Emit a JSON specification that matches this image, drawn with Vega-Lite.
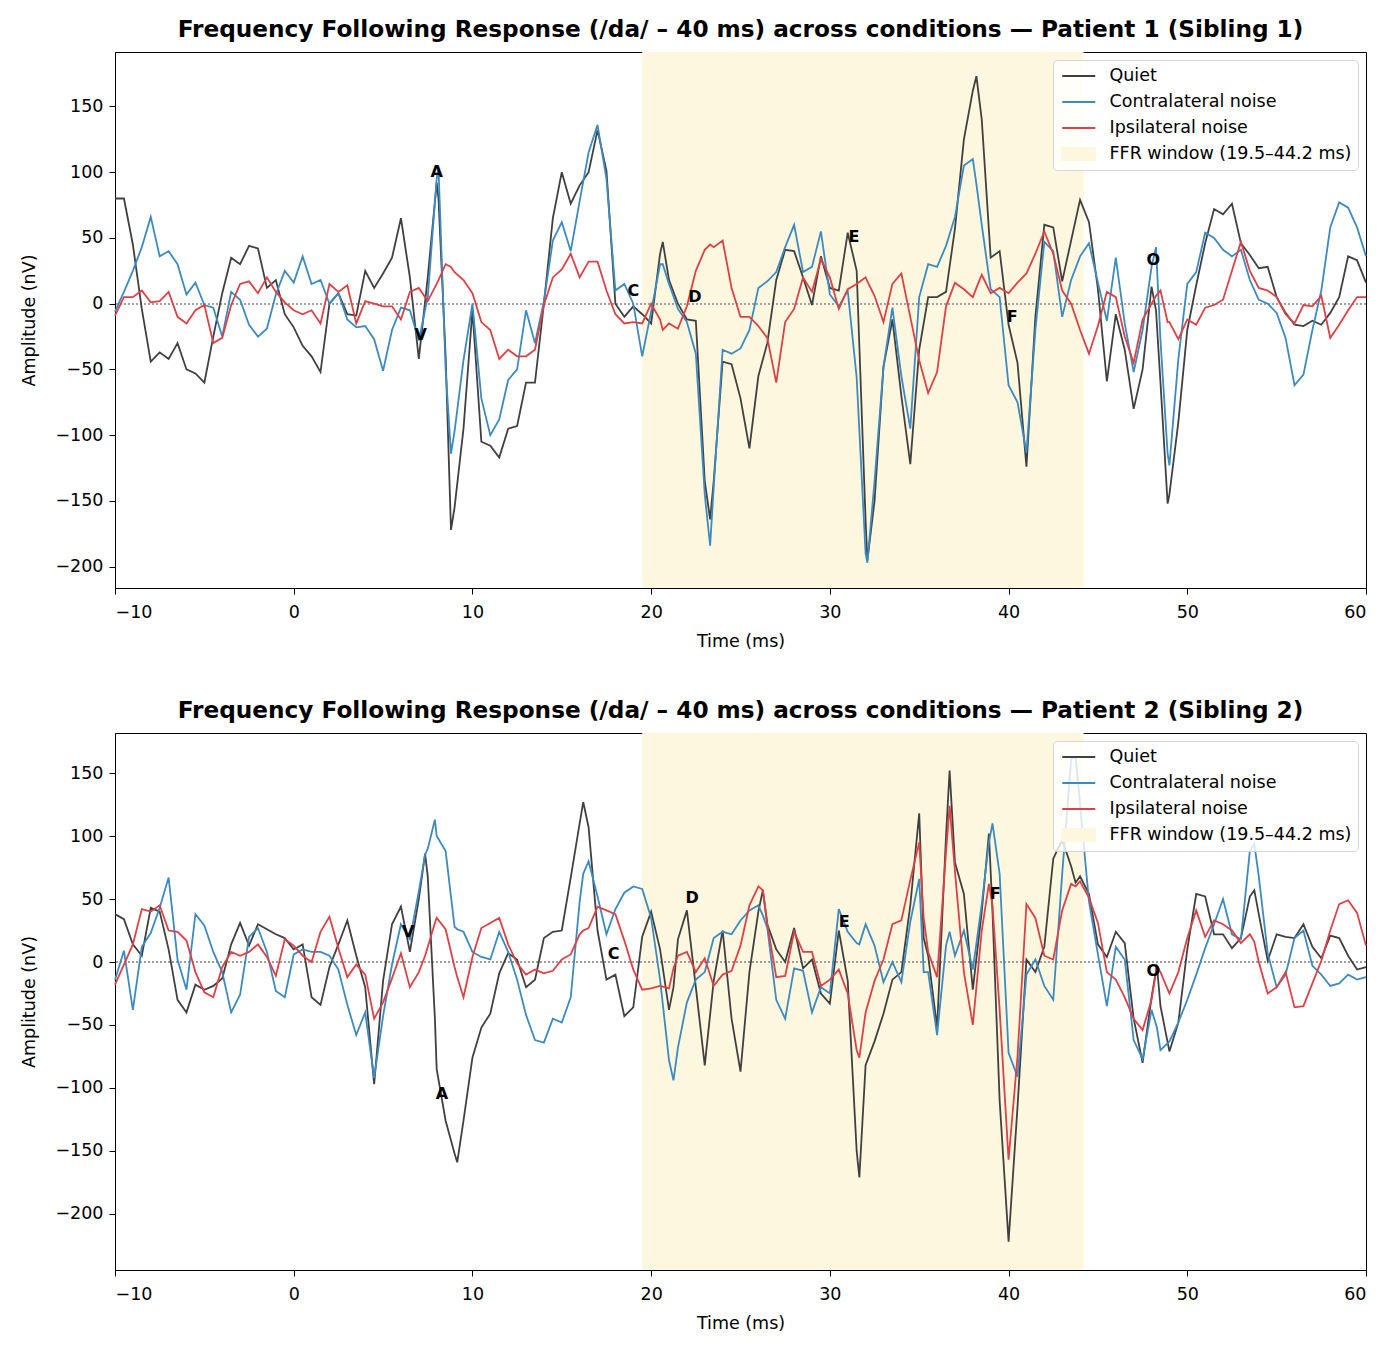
{
  "$schema": "https://vega.github.io/schema/vega-lite/v6.json",
  "padding": {"left": 20, "top": 17, "right": 5, "bottom": 5},
  "spacing": 47,
  "resolve": {"scale": {"color": "independent", "x": "independent", "y": "independent"}},
  "config": {
    "font": "DejaVu Sans",
    "view": {"stroke": "black", "strokeWidth": 1},
    "axis": {
      "grid": false, "labelFontSize": 17.5, "titleFontSize": 17.5, "labelColor": "black",
      "titleColor": "black", "titleFontWeight": "normal", "tickColor": "black", "domainColor": "black",
      "tickSize": 6, "labelPadding": 6, "titlePadding": 8
    },
    "axisX": {"labelPadding": 9, "titlePadding": 12},
    "axisY": {"titlePadding": 16},
    "title": {"fontSize": 23.2, "fontWeight": "bold", "color": "black", "anchor": "middle", "offset": 10},
    "legend": {
      "orient": "top-right", "offset": 8, "padding": 6, "fillColor": "rgba(255,255,255,0.8)",
      "strokeColor": "#d5d5d5", "cornerRadius": 4, "labelFontSize": 17.5, "labelColor": "black",
      "symbolSize": 306, "rowPadding": 7, "labelOffset": 30.5, "labelLimit": 400
    }
  },
  "datasets": {
    "win": [{"a": 19.5, "b": 44.2, "k": "w"}],
    "p1": [
      {"t":-10,"q":80,"c":-6,"i":-9},{"t":-9.5,"q":80,"c":9,"i":5},{"t":-9,"q":45,"c":25,"i":5},
      {"t":-8.5,"q":-4,"c":43,"i":10},{"t":-8,"q":-44,"c":66,"i":1},{"t":-7.5,"q":-37,"c":36,"i":2},
      {"t":-7,"q":-42,"c":40,"i":9},{"t":-6.5,"q":-30,"c":30,"i":-10},{"t":-6,"q":-50,"c":7,"i":-15},
      {"t":-5.5,"q":-53,"c":16,"i":-5},{"t":-5,"q":-60,"c":-1,"i":-1},{"t":-4.5,"q":-25,"c":-3,"i":-30},
      {"t":-4,"q":8,"c":-25,"i":-26},{"t":-3.5,"q":35,"c":9,"i":-1},{"t":-3,"q":30,"c":3,"i":15},
      {"t":-2.5,"q":44,"c":-16,"i":17},{"t":-2,"q":42,"c":-25,"i":8},{"t":-1.5,"q":12,"c":-19,"i":20},
      {"t":-1,"q":18,"c":7,"i":9},{"t":-0.5,"q":-8,"c":25,"i":1},{"t":0,"q":-18,"c":16,"i":-5},
      {"t":0.5,"q":-32,"c":36,"i":-8},{"t":1,"q":-40,"c":15,"i":-5},{"t":1.5,"q":-52,"c":18,"i":-15},
      {"t":2,"q":0,"c":0,"i":15},{"t":2.5,"q":8,"c":8,"i":9},{"t":3,"q":-8,"c":-12,"i":14},
      {"t":3.5,"q":-9,"c":-18,"i":-15},{"t":4,"q":25,"c":-17,"i":2},{"t":4.5,"q":12,"c":-27,"i":0},
      {"t":5,"q":23,"c":-51,"i":-2},{"t":5.5,"q":35,"c":-20,"i":-2},{"t":6,"q":65,"c":-3,"i":-12},
      {"t":6.5,"q":20,"c":-5,"i":9},{"t":7,"q":-42,"c":-28,"i":12},{"t":7.5,"q":20,"c":5,"i":2},
      {"t":8,"q":92,"c":95,"i":15},{"t":8.1,"q":80,"c":104,"i":18},{"t":8.5,"q":-40,"c":-50,"i":30},
      {"t":8.8,"q":-172,"c":-114,"i":28},{"t":9,"q":-155,"c":-97,"i":24},{"t":9.5,"q":-95,"c":-43,"i":18},
      {"t":10,"q":-5,"c":0,"i":8},{"t":10.5,"q":-105,"c":-72,"i":-14},{"t":11,"q":-108,"c":-100,"i":-20},
      {"t":11.5,"q":-117,"c":-88,"i":-42},{"t":12,"q":-95,"c":-58,"i":-35},{"t":12.5,"q":-93,"c":-50,"i":-40},
      {"t":13,"q":-60,"c":-5,"i":-40},{"t":13.5,"q":-60,"c":-30,"i":-35},{"t":14,"q":0,"c":2,"i":-1},
      {"t":14.5,"q":65,"c":48,"i":20},{"t":15,"q":100,"c":62,"i":26},{"t":15.5,"q":76,"c":40,"i":38},
      {"t":16,"q":90,"c":78,"i":20},{"t":16.5,"q":100,"c":115,"i":32},{"t":17,"q":132,"c":136,"i":32},
      {"t":17.5,"q":101,"c":95,"i":10},{"t":18,"q":0,"c":10,"i":-8},{"t":18.5,"q":-10,"c":15,"i":-15},
      {"t":19,"q":-2,"c":0,"i":-14},{"t":19.5,"q":-8,"c":-40,"i":-15},{"t":20,"q":-15,"c":-6,"i":0},
      {"t":20.5,"q":38,"c":30,"i":-12},{"t":20.65,"q":47,"c":30,"i":-20},{"t":21,"q":18,"c":15,"i":-15},
      {"t":21.5,"q":0,"c":-4,"i":-19},{"t":22,"q":-12,"c":-14,"i":-2},{"t":22.5,"q":-13,"c":-38,"i":25},
      {"t":23,"q":-135,"c":-145,"i":41},{"t":23.3,"q":-164,"c":-184,"i":45},{"t":23.5,"q":-135,"c":-140,"i":43},
      {"t":24,"q":-44,"c":-35,"i":48},{"t":24.5,"q":-46,"c":-38,"i":12},{"t":25,"q":-72,"c":-34,"i":-10},
      {"t":25.5,"q":-110,"c":-20,"i":-10},{"t":26,"q":-55,"c":12,"i":-17},{"t":26.5,"q":-30,"c":17,"i":-26},
      {"t":27,"q":18,"c":24,"i":-60},{"t":27.5,"q":41,"c":43,"i":-14},{"t":28,"q":40,"c":60,"i":-4},
      {"t":28.5,"q":20,"c":24,"i":20},{"t":29,"q":-1,"c":28,"i":9},{"t":29.5,"q":36,"c":55,"i":34},
      {"t":30,"q":12,"c":7,"i":20},{"t":30.5,"q":10,"c":-2,"i":-4},{"t":31,"q":54,"c":10,"i":11},
      {"t":31.5,"q":25,"c":-56,"i":15},{"t":32,"q":-165,"c":-190,"i":20},{"t":32.1,"q":-195,"c":-197,"i":17},
      {"t":32.5,"q":-150,"c":-135,"i":6},{"t":33,"q":-48,"c":-48,"i":-14},{"t":33.5,"q":-12,"c":-3,"i":15},
      {"t":34,"q":-70,"c":-55,"i":23},{"t":34.5,"q":-122,"c":-95,"i":-10},{"t":35,"q":-35,"c":5,"i":-43},
      {"t":35.5,"q":5,"c":30,"i":-68},{"t":36,"q":5,"c":28,"i":-52},{"t":36.5,"q":9,"c":44,"i":-2},
      {"t":37,"q":57,"c":66,"i":16},{"t":37.5,"q":125,"c":105,"i":11},{"t":38,"q":162,"c":110,"i":5},
      {"t":38.2,"q":173,"c":91,"i":12},{"t":38.5,"q":140,"c":60,"i":22},{"t":39,"q":35,"c":11,"i":8},
      {"t":39.5,"q":40,"c":5,"i":12},{"t":40,"q":-16,"c":-62,"i":8},{"t":40.5,"q":-45,"c":-75,"i":16},
      {"t":41,"q":-124,"c":-113,"i":23},{"t":41.5,"q":-10,"c":-20,"i":38},{"t":42,"q":60,"c":47,"i":55},
      {"t":42.5,"q":58,"c":40,"i":38},{"t":43,"q":17,"c":-10,"i":10},{"t":43.5,"q":48,"c":18,"i":0},
      {"t":44,"q":79,"c":36,"i":-20},{"t":44.5,"q":62,"c":46,"i":-38},{"t":45,"q":11,"c":16,"i":-17},
      {"t":45.5,"q":-59,"c":-13,"i":9},{"t":46,"q":-8,"c":35,"i":5},{"t":46.5,"q":-35,"c":-15,"i":-25},
      {"t":47,"q":-80,"c":-52,"i":-45},{"t":47.5,"q":-50,"c":-20,"i":-12},{"t":48,"q":13,"c":28,"i":0},
      {"t":48.25,"q":-5,"c":43,"i":6},{"t":48.5,"q":-60,"c":-28,"i":10},{"t":48.9,"q":-152,"c":-114,"i":-14},
      {"t":49,"q":-145,"c":-123,"i":-14},{"t":49.5,"q":-90,"c":-42,"i":-27},{"t":50,"q":-20,"c":15,"i":-12},
      {"t":50.5,"q":14,"c":24,"i":-16},{"t":51,"q":46,"c":54,"i":-3},{"t":51.5,"q":72,"c":50,"i":-1},
      {"t":52,"q":68,"c":41,"i":3},{"t":52.5,"q":76,"c":36,"i":25},{"t":53,"q":46,"c":41,"i":47},
      {"t":53.5,"q":37,"c":18,"i":25},{"t":54,"q":27,"c":3,"i":12},{"t":54.5,"q":28,"c":0,"i":10},
      {"t":55,"q":5,"c":-7,"i":5},{"t":55.5,"q":-7,"c":-26,"i":-8},{"t":56,"q":-16,"c":-62,"i":-15},
      {"t":56.5,"q":-17,"c":-54,"i":-1},{"t":57,"q":-13,"c":-20,"i":-2},{"t":57.5,"q":-16,"c":10,"i":6},
      {"t":58,"q":-7,"c":58,"i":-26},{"t":58.5,"q":5,"c":77,"i":-16},{"t":59,"q":36,"c":73,"i":-5},
      {"t":59.5,"q":33,"c":58,"i":5},{"t":60,"q":16,"c":36,"i":5}
    ],
    "p2": [
      {"t":-10,"q":38,"c":-14,"i":-18},{"t":-9.5,"q":34,"c":9,"i":-2},{"t":-9,"q":14,"c":-38,"i":14},
      {"t":-8.5,"q":5,"c":12,"i":42},{"t":-8,"q":43,"c":23,"i":40},{"t":-7.5,"q":40,"c":43,"i":45},
      {"t":-7,"q":10,"c":67,"i":25},{"t":-6.5,"q":-30,"c":2,"i":24},{"t":-6,"q":-40,"c":-22,"i":17},
      {"t":-5.5,"q":-18,"c":38,"i":-8},{"t":-5,"q":-22,"c":29,"i":-24},{"t":-4.5,"q":-19,"c":8,"i":-28},
      {"t":-4,"q":-13,"c":-8,"i":-4},{"t":-3.5,"q":14,"c":-40,"i":8},{"t":-3,"q":31,"c":-26,"i":5},
      {"t":-2.5,"q":13,"c":20,"i":8},{"t":-2,"q":30,"c":27,"i":14},{"t":-1.5,"q":26,"c":8,"i":4},
      {"t":-1,"q":22,"c":-23,"i":-11},{"t":-0.5,"q":19,"c":-28,"i":18},{"t":0,"q":10,"c":6,"i":13},
      {"t":0.5,"q":14,"c":10,"i":5},{"t":1,"q":-28,"c":8,"i":0},{"t":1.5,"q":-34,"c":8,"i":24},
      {"t":2,"q":-4,"c":5,"i":36},{"t":2.5,"q":14,"c":-6,"i":11},{"t":3,"q":33,"c":-34,"i":-12},
      {"t":3.5,"q":5,"c":-58,"i":-2},{"t":4,"q":-20,"c":-40,"i":-10},{"t":4.5,"q":-97,"c":-92,"i":-45},
      {"t":5,"q":-15,"c":-43,"i":-32},{"t":5.5,"q":30,"c":-2,"i":-13},{"t":6,"q":44,"c":30,"i":7},
      {"t":6.5,"q":8,"c":18,"i":-20},{"t":7,"q":50,"c":56,"i":-8},{"t":7.35,"q":86,"c":85,"i":5},
      {"t":7.5,"q":68,"c":90,"i":12},{"t":7.9,"q":-45,"c":113,"i":31},{"t":8,"q":-85,"c":100,"i":35},
      {"t":8.5,"q":-126,"c":88,"i":26},{"t":9,"q":-152,"c":28,"i":-4},{"t":9.15,"q":-159,"c":26,"i":-12},
      {"t":9.5,"q":-126,"c":24,"i":-28},{"t":10,"q":-76,"c":8,"i":4},{"t":10.5,"q":-52,"c":4,"i":27},
      {"t":11,"q":-41,"c":2,"i":31},{"t":11.5,"q":-9,"c":24,"i":35},{"t":12,"q":7,"c":8,"i":14},
      {"t":12.5,"q":2,"c":-14,"i":-1},{"t":13,"q":-20,"c":-42,"i":-10},{"t":13.5,"q":-14,"c":-62,"i":-6},
      {"t":14,"q":19,"c":-64,"i":-9},{"t":14.5,"q":24,"c":-45,"i":-7},{"t":15,"q":25,"c":-48,"i":2},
      {"t":15.5,"q":67,"c":-28,"i":6},{"t":16,"q":110,"c":48,"i":22},{"t":16.2,"q":127,"c":70,"i":25},
      {"t":16.5,"q":107,"c":80,"i":27},{"t":17,"q":25,"c":52,"i":44},{"t":17.5,"q":-14,"c":22,"i":41},
      {"t":18,"q":-10,"c":42,"i":38},{"t":18.5,"q":-43,"c":55,"i":17},{"t":19,"q":-36,"c":60,"i":-6},
      {"t":19.5,"q":20,"c":58,"i":-22},{"t":20,"q":40,"c":35,"i":-21},{"t":20.5,"q":10,"c":-14,"i":-19},
      {"t":21,"q":-38,"c":-78,"i":-21},{"t":21.25,"q":-20,"c":-94,"i":-5},{"t":21.5,"q":18,"c":-68,"i":5},
      {"t":22,"q":41,"c":-32,"i":8},{"t":22.5,"q":-20,"c":-14,"i":-8},{"t":23,"q":-82,"c":-8,"i":3},
      {"t":23.5,"q":-15,"c":19,"i":-19},{"t":24,"q":25,"c":24,"i":-10},{"t":24.5,"q":-45,"c":22,"i":-7},
      {"t":25,"q":-87,"c":33,"i":13},{"t":25.5,"q":-8,"c":41,"i":45},{"t":26,"q":40,"c":45,"i":60},
      {"t":26.25,"q":57,"c":37,"i":57},{"t":26.5,"q":30,"c":27,"i":30},{"t":27,"q":10,"c":-30,"i":-12},
      {"t":27.5,"q":0,"c":-45,"i":-11},{"t":28,"q":27,"c":-5,"i":24},{"t":28.5,"q":-5,"c":-7,"i":8},
      {"t":29,"q":2,"c":-40,"i":8},{"t":29.5,"q":-25,"c":-20,"i":-19},{"t":30,"q":-33,"c":-25,"i":-14},
      {"t":30.5,"q":25,"c":42,"i":-6},{"t":31,"q":-15,"c":24,"i":-25},{"t":31.5,"q":-150,"c":15,"i":-70},
      {"t":31.65,"q":-171,"c":14,"i":-76},{"t":32,"q":-82,"c":30,"i":-40},{"t":32.5,"q":-63,"c":13,"i":-15},
      {"t":33,"q":-41,"c":-16,"i":2},{"t":33.5,"q":-14,"c":0,"i":30},{"t":34,"q":-8,"c":-16,"i":33},
      {"t":34.5,"q":45,"c":32,"i":65},{"t":35,"q":118,"c":66,"i":95},{"t":35.25,"q":19,"c":-8,"i":35},
      {"t":35.5,"q":5,"c":-8,"i":8},{"t":36,"q":-52,"c":-58,"i":-12},{"t":36.5,"q":100,"c":13,"i":87},
      {"t":36.7,"q":152,"c":24,"i":124},{"t":37,"q":79,"c":5,"i":72},{"t":37.5,"q":54,"c":25,"i":-8},
      {"t":38,"q":-22,"c":-6,"i":-50},{"t":38.5,"q":40,"c":46,"i":25},{"t":38.9,"q":102,"c":95,"i":62},
      {"t":39.1,"q":40,"c":110,"i":45},{"t":39.5,"q":-110,"c":70,"i":-38},{"t":40,"q":-222,"c":-72,"i":-157},
      {"t":40.5,"q":-115,"c":-91,"i":-75},{"t":41,"q":2,"c":-10,"i":46},{"t":41.5,"q":-8,"c":2,"i":35},
      {"t":42,"q":12,"c":-19,"i":5},{"t":42.5,"q":82,"c":-30,"i":2},{"t":43,"q":97,"c":70,"i":41},
      {"t":43.5,"q":76,"c":161,"i":62},{"t":43.75,"q":63,"c":163,"i":60},{"t":44,"q":68,"c":125,"i":64},
      {"t":44.5,"q":54,"c":48,"i":51},{"t":45,"q":14,"c":6,"i":31},{"t":45.5,"q":4,"c":-35,"i":-8},
      {"t":46,"q":24,"c":12,"i":-14},{"t":46.5,"q":15,"c":2,"i":-28},{"t":47,"q":-45,"c":-62,"i":-45},
      {"t":47.5,"q":-80,"c":-77,"i":-54},{"t":48,"q":-28,"c":-38,"i":-30},{"t":48.3,"q":-3,"c":-52,"i":-3},
      {"t":48.5,"q":-35,"c":-70,"i":-8},{"t":49,"q":-71,"c":-63,"i":-25},{"t":49.5,"q":-48,"c":-48,"i":-8},
      {"t":50,"q":10,"c":-30,"i":19},{"t":50.5,"q":54,"c":-10,"i":41},{"t":51,"q":52,"c":11,"i":20},
      {"t":51.5,"q":22,"c":30,"i":33},{"t":52,"q":22,"c":50,"i":30},{"t":52.5,"q":11,"c":22,"i":25},
      {"t":53,"q":19,"c":18,"i":15},{"t":53.5,"q":52,"c":88,"i":22},{"t":53.75,"q":57,"c":94,"i":16},
      {"t":54,"q":38,"c":68,"i":0},{"t":54.5,"q":1,"c":7,"i":-25},{"t":55,"q":22,"c":-20,"i":-20},
      {"t":55.5,"q":20,"c":-10,"i":-8},{"t":56,"q":19,"c":19,"i":-36},{"t":56.5,"q":30,"c":25,"i":-35},
      {"t":57,"q":12,"c":-3,"i":-17},{"t":57.5,"q":3,"c":-10,"i":1},{"t":58,"q":21,"c":-19,"i":25},
      {"t":58.5,"q":19,"c":-17,"i":46},{"t":59,"q":5,"c":-10,"i":49},{"t":59.5,"q":-6,"c":-14,"i":39},
      {"t":60,"q":-4,"c":-12,"i":13}
    ],
    "lab1": [
      {"t":8.0,"v":100,"s":"A"},{"t":7.1,"v":-24,"s":"V"},{"t":19.0,"v":10,"s":"C"},
      {"t":22.45,"v":5,"s":"D"},{"t":31.35,"v":51,"s":"E"},{"t":40.2,"v":-10,"s":"F"},{"t":48.1,"v":33,"s":"O"}
    ],
    "lab2": [
      {"t":6.4,"v":24,"s":"V"},{"t":8.3,"v":-105,"s":"A"},{"t":17.9,"v":6,"s":"C"},
      {"t":22.3,"v":51,"s":"D"},{"t":30.8,"v":32,"s":"E"},{"t":39.25,"v":54,"s":"F"},{"t":48.1,"v":-7,"s":"O"}
    ]
  },
  "vconcat": [
    {
      "title": "Frequency Following Response (/da/ – 40 ms) across conditions — Patient 1 (Sibling 1)",
      "width": 1251,
      "height": 536,
      "layer": [
        {
          "data": {"name": "win"},
          "mark": {"type": "rect"},
          "encoding": {
            "x": {"field": "a", "type": "quantitative", "scale": {"domain": [-10, 60], "nice": false, "zero": false},
                  "axis": {"values": [-10, 0, 10, 20, 30, 40, 50, 60]}, "title": "Time (ms)"},
            "x2": {"field": "b"},
            "color": {
              "field": "k", "type": "nominal",
              "scale": {"domain": ["q", "c", "i", "w"], "range": ["#404040", "#3d8ac0", "#dc4146", "#fdf7df"]},
              "legend": {
                "title": null,
                "labelExpr": "datum.value == 'q' ? 'Quiet' : datum.value == 'c' ? 'Contralateral noise' : datum.value == 'i' ? 'Ipsilateral noise' : 'FFR window (19.5–44.2 ms)'",
                "encode": {
                  "symbols": {
                    "update": {
                      "shape": {"signal": "datum.value == 'w' ? 'M-0.77,-0.7H3V0.7H-0.77Z' : 'M-0.77,0H3'"},
                      "fill": {"signal": "datum.value == 'w' ? '#fbf0cc' : 'transparent'"},
                      "stroke": {"signal": "datum.value == 'q' ? '#404040' : datum.value == 'c' ? '#3d8ac0' : datum.value == 'i' ? '#dc4146' : 'transparent'"},
                      "strokeWidth": {"value": 1.8},
                      "opacity": {"value": 1}
                    }
                  }
                }
              }
            }
          }
        },
        {
          "data": {"name": "p1"},
          "mark": {"type": "rule", "strokeDash": [1.5, 2.5], "color": "#a0a0a0", "strokeWidth": 0.8},
          "encoding": {"y": {"datum": 0}}
        },
        {
          "data": {"name": "p1"},
          "transform": [{"fold": ["q", "c", "i"], "as": ["k", "v"]}],
          "mark": {"type": "line", "strokeWidth": 1.8},
          "encoding": {
            "x": {"field": "t", "type": "quantitative"},
            "y": {"field": "v", "type": "quantitative", "scale": {"domain": [-216.2, 191.4], "nice": false, "zero": false},
                  "axis": {"values": [-200, -150, -100, -50, 0, 50, 100, 150]}, "title": "Amplitude (nV)"},
            "color": {"field": "k", "type": "nominal"}
          }
        },
        {
          "data": {"name": "lab1"},
          "mark": {"type": "text", "fontWeight": "bold", "fontSize": 16, "color": "black", "align": "center", "baseline": "middle"},
          "encoding": {
            "x": {"field": "t", "type": "quantitative"},
            "y": {"field": "v", "type": "quantitative"},
            "text": {"field": "s"}
          }
        }
      ]
    },
    {
      "title": "Frequency Following Response (/da/ – 40 ms) across conditions — Patient 2 (Sibling 2)",
      "width": 1251,
      "height": 537,
      "layer": [
        {
          "data": {"name": "win"},
          "mark": {"type": "rect"},
          "encoding": {
            "x": {"field": "a", "type": "quantitative", "scale": {"domain": [-10, 60], "nice": false, "zero": false},
                  "axis": {"values": [-10, 0, 10, 20, 30, 40, 50, 60]}, "title": "Time (ms)"},
            "x2": {"field": "b"},
            "color": {
              "field": "k", "type": "nominal",
              "scale": {"domain": ["q", "c", "i", "w"], "range": ["#404040", "#3d8ac0", "#dc4146", "#fdf7df"]},
              "legend": {
                "title": null,
                "labelExpr": "datum.value == 'q' ? 'Quiet' : datum.value == 'c' ? 'Contralateral noise' : datum.value == 'i' ? 'Ipsilateral noise' : 'FFR window (19.5–44.2 ms)'",
                "encode": {
                  "symbols": {
                    "update": {
                      "shape": {"signal": "datum.value == 'w' ? 'M-0.77,-0.7H3V0.7H-0.77Z' : 'M-0.77,0H3'"},
                      "fill": {"signal": "datum.value == 'w' ? '#fbf0cc' : 'transparent'"},
                      "stroke": {"signal": "datum.value == 'q' ? '#404040' : datum.value == 'c' ? '#3d8ac0' : datum.value == 'i' ? '#dc4146' : 'transparent'"},
                      "strokeWidth": {"value": 1.8},
                      "opacity": {"value": 1}
                    }
                  }
                }
              }
            }
          }
        },
        {
          "data": {"name": "p2"},
          "mark": {"type": "rule", "strokeDash": [1.5, 2.5], "color": "#a0a0a0", "strokeWidth": 0.8},
          "encoding": {"y": {"datum": 0}}
        },
        {
          "data": {"name": "p2"},
          "transform": [{"fold": ["q", "c", "i"], "as": ["k", "v"]}],
          "mark": {"type": "line", "strokeWidth": 1.8},
          "encoding": {
            "x": {"field": "t", "type": "quantitative"},
            "y": {"field": "v", "type": "quantitative", "scale": {"domain": [-244.5, 181.8], "nice": false, "zero": false},
                  "axis": {"values": [-200, -150, -100, -50, 0, 50, 100, 150]}, "title": "Amplitude (nV)"},
            "color": {"field": "k", "type": "nominal"}
          }
        },
        {
          "data": {"name": "lab2"},
          "mark": {"type": "text", "fontWeight": "bold", "fontSize": 16, "color": "black", "align": "center", "baseline": "middle"},
          "encoding": {
            "x": {"field": "t", "type": "quantitative"},
            "y": {"field": "v", "type": "quantitative"},
            "text": {"field": "s"}
          }
        }
      ]
    }
  ]
}
